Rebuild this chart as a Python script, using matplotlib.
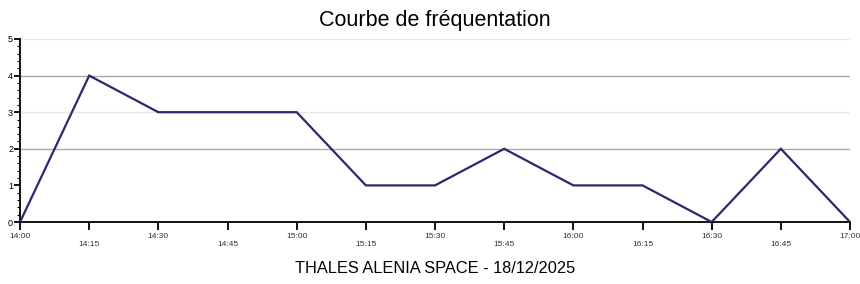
import matplotlib
matplotlib.use('Agg')
import matplotlib.pyplot as plt
from matplotlib.ticker import MultipleLocator

plt.rcParams['font.family'] = ['Liberation Sans', 'DejaVu Sans']

# Data
times = ['14:00', '14:15', '14:30', '14:45', '15:00', '15:15', '15:30',
         '15:45', '16:00', '16:15', '16:30', '16:45', '17:00']
visitors = [0, 4, 3, 3, 3, 1, 1, 2, 1, 1, 0, 2, 0]

fig = plt.figure(figsize=(8.6, 2.84), dpi=100)
ax = fig.add_axes([0.0233, 0.2183, 0.9651, 0.6444])

x = list(range(len(times)))
ax.plot(x, visitors, color='#29296f', linewidth=1.6, solid_joinstyle='miter', zorder=3)

ax.set_xlim(0, len(times) - 1)
ax.set_ylim(0, 5)

# grid: strong at 2 and 4, faint at 3 and 5
for yv in [2, 4]:
    ax.axhline(yv, color='#a8a8a8', linewidth=1.0, zorder=1)
for yv in [3, 5]:
    ax.axhline(yv, color='#e8e8e8', linewidth=1.0, zorder=1)

ax.set_xticks(x)
ax.set_xticklabels(times)
ax.yaxis.set_major_locator(MultipleLocator(1))
ax.yaxis.set_minor_locator(MultipleLocator(0.2))

for s in ['top', 'right']:
    ax.spines[s].set_visible(False)
for s in ['left', 'bottom']:
    ax.spines[s].set_linewidth(1.3)
    ax.spines[s].set_color('black')

ax.tick_params(axis='x', length=6, width=1.3, labelsize=6, pad=2, labelcolor='#333333')
ax.tick_params(axis='y', which='major', length=4, width=1.3, labelsize=6.5, pad=1)
ax.tick_params(axis='y', which='minor', length=2.5, width=0.8)

# alternate label height
for i, tick in enumerate(ax.xaxis.get_major_ticks()):
    if i % 2 == 1:
        tick.set_pad(8)

ax.set_title('Courbe de fréquentation', fontsize=15.5, pad=9)
ax.set_xlabel('THALES ALENIA SPACE - 18/12/2025', fontsize=11.8, labelpad=9)

fig.savefig('out.png', dpi=100)
